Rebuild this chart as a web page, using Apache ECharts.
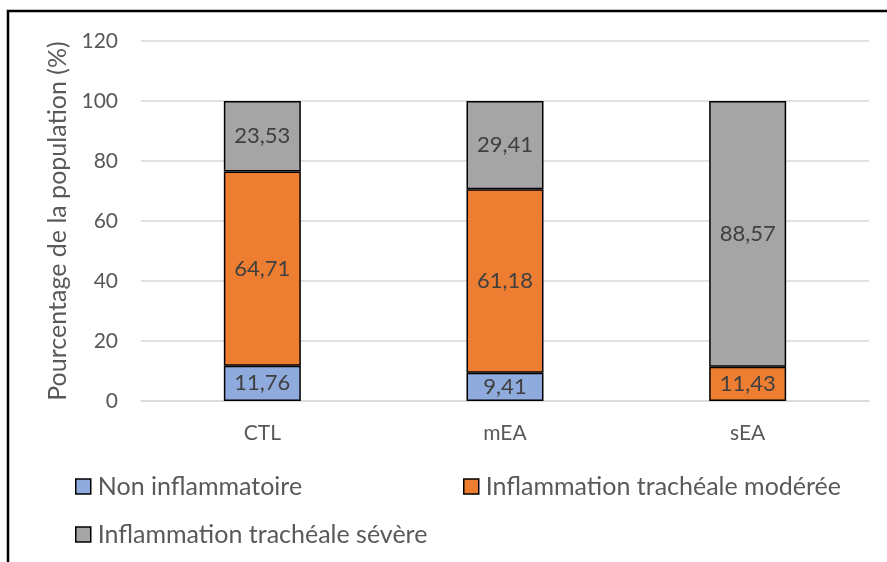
<!DOCTYPE html>
<html><head><meta charset="utf-8">
<script src="https://cdn.jsdelivr.net/npm/echarts@6/dist/echarts.min.js"></script>
<style>html,body{margin:0;padding:0;background:#fff}#c{width:887px;height:562px}</style>
</head><body><div id="c"></div>
<script>
const categories = ['CTL', 'mEA', 'sEA'];
const nonInflammatoire = [11.76, 9.41, null];
const moderee = [64.71, 61.18, 11.43];
const severe = [23.53, 29.41, 88.57];
const seriesNames = ['Non inflammatoire', 'Inflammation trachéale modérée', 'Inflammation trachéale sévère'];
const yTicks = [0, 20, 40, 60, 80, 100, 120];

const FONT = 'Lato';
const colors = ['#8FAADC', '#ED7D31', '#A5A5A5'];
const chart = echarts.init(document.getElementById('c'));
const fmt = p => p.value == null ? '' : p.value.toFixed(2).replace('.', ',');
function mk(name, data, i) {
  return {
    name, type: 'bar', stack: 'a', data, barWidth: 77,
    itemStyle: { color: colors[i], borderColor: '#000', borderWidth: 1.5 },
    label: { show: true, position: 'inside', formatter: fmt, color: '#404040', fontSize: 22, fontFamily: FONT },
    emphasis: { disabled: true }
  };
}
const legendCommon = {
  itemWidth: 15, itemHeight: 15, icon: 'rect',
  itemStyle: { borderColor: '#000', borderWidth: 1.5 },
  textStyle: { color: '#595959', fontSize: 25, fontFamily: FONT, padding: [0, 0, 0, 2] }
};
chart.setOption({
  animation: false,
  color: colors,
  graphic: [{ type: 'rect', shape: { x: 8, y: 11, width: 1000, height: 700 }, style: { fill: 'none', stroke: '#000', lineWidth: 2.5 }, silent: true }],
  grid: { left: 141, right: 18, top: 41, bottom: 161 },
  legend: [
    Object.assign({ data: [seriesNames[0]], left: 70, top: 469 }, legendCommon),
    Object.assign({ data: [seriesNames[1]], left: 458, top: 469 }, legendCommon),
    Object.assign({ data: [seriesNames[2]], left: 70, top: 517 }, legendCommon)
  ],
  xAxis: {
    type: 'category', data: categories,
    axisLine: { lineStyle: { color: '#D9D9D9', width: 1.5 } },
    axisTick: { show: false },
    axisLabel: { color: '#595959', fontSize: 21, fontFamily: FONT, margin: 22 }
  },
  yAxis: {
    type: 'value', min: yTicks[0], max: yTicks[yTicks.length - 1], interval: 20,
    name: 'Pourcentage de la population (%)', nameLocation: 'middle', nameGap: 68,
    nameTextStyle: { color: '#595959', fontSize: 25, fontFamily: FONT },
    axisLine: { show: false }, axisTick: { show: false },
    axisLabel: { color: '#595959', fontSize: 21, fontFamily: FONT, margin: 23 },
    splitLine: { lineStyle: { color: '#D9D9D9', width: 1.5 } }
  },
  series: [mk(seriesNames[0], nonInflammatoire, 0), mk(seriesNames[1], moderee, 1), mk(seriesNames[2], severe, 2)]
});
</script></body></html>
